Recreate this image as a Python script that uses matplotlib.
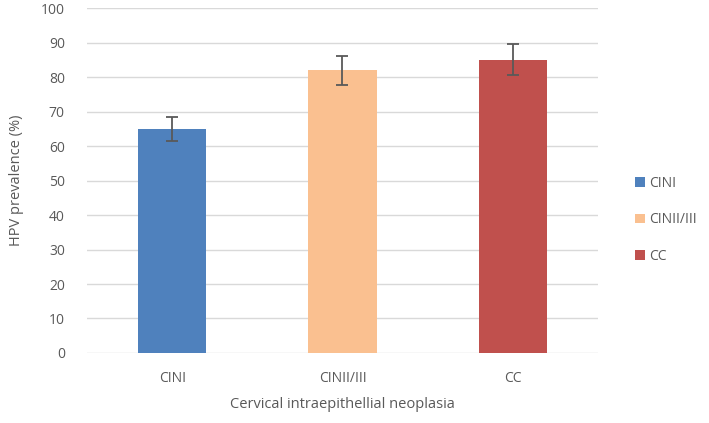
import matplotlib.pyplot as plt
import numpy as np

# data
categories = ['CINI', 'CINII/III', 'CC']
prevalence = [65, 82, 85]
errors = [3.4, 4.2, 4.5]
colors = ['#4F81BD', '#FAC090', '#C0504D']

plt.rcParams['font.family'] = ['Open Sans', 'DejaVu Sans']
text_color = '#595959'

fig = plt.figure(figsize=(7.09, 4.23), dpi=100)
ax = fig.add_axes([0.1227, 0.1655, 0.7207, 0.8155])

x = np.arange(len(categories))
for i in range(len(categories)):
    ax.bar(x[i], prevalence[i], width=0.4, color=colors[i], label=categories[i], zorder=3)
ax.errorbar(x, prevalence, yerr=errors, fmt='none', ecolor='#595959', elinewidth=1.3,
            capsize=4, capthick=1.3, zorder=4)

ax.set_xlim(-0.5, 2.5)
ax.set_ylim(0, 100)
ax.set_yticks(np.arange(0, 101, 10))
ax.set_xticks(x)
ax.set_xticklabels(categories)
ax.yaxis.grid(True, color='#D9D9D9', linewidth=1, zorder=0)
for s in ax.spines.values():
    s.set_visible(False)
ax.tick_params(axis='both', length=0, labelsize=10, colors=text_color)
ax.tick_params(axis='x', pad=13)
ax.tick_params(axis='y', pad=16)

ax.set_xlabel('Cervical intraepithellial neoplasia', fontsize=10.5, color=text_color, labelpad=8)
ax.set_ylabel('HPV prevalence (%)', fontsize=10.5, color=text_color, labelpad=12)

leg = ax.legend(loc='center left', bbox_to_anchor=(0.878, 0.48), bbox_transform=fig.transFigure,
                frameon=False, fontsize=10, handlelength=0.7, handleheight=0.7,
                handletextpad=0.3, labelspacing=1.55)
for t in leg.get_texts():
    t.set_color(text_color)

fig.savefig('out.png', dpi=100)
